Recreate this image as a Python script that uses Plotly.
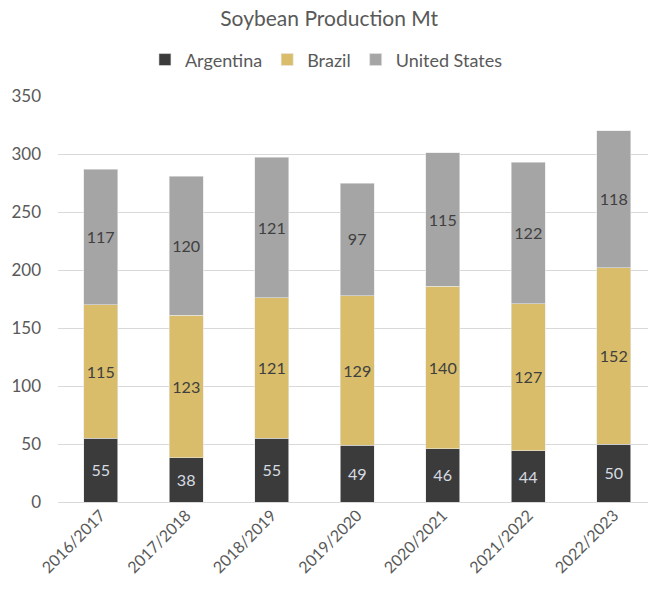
import plotly.graph_objects as go

years = ["2016/2017", "2017/2018", "2018/2019", "2019/2020", "2020/2021", "2021/2022", "2022/2023"]
argentina = [55, 38, 55, 49, 46, 44, 50]
brazil = [115, 123, 121, 129, 140, 127, 152]
united_states = [117, 120, 121, 97, 115, 122, 118]

FONT = "Lato"
series = [
    ("Argentina", argentina, "#3b3b3b", "#d6dbe3"),
    ("Brazil", brazil, "#d9bd6a", "#404040"),
    ("United States", united_states, "#a5a5a5", "#404040"),
]

fig = go.Figure()
for name, vals, color, tcolor in series:
    fig.add_trace(go.Bar(
        x=years, y=vals, name=name,
        marker=dict(color=color, line=dict(width=0.6, color="#e6e6e6")),
        text=[str(v) for v in vals], textposition="inside",
        insidetextanchor="middle", textangle=0,
        textfont=dict(family=FONT, size=17, color=tcolor),
        width=0.4,
    ))

fig.update_layout(
    barmode="stack",
    width=648, height=593,
    margin=dict(l=58, r=0, t=96, b=91),
    paper_bgcolor="white", plot_bgcolor="white",
    font=dict(family=FONT, size=15, color="#595959"),
    title=dict(text="Soybean Production Mt", x=0.508, xanchor="center",
               y=0.968, yref="container", yanchor="middle",
               font=dict(family=FONT, size=21, color="#595959")),
    legend=dict(orientation="h", x=0.455, xanchor="center", y=1.089, yanchor="middle",
                font=dict(family=FONT, size=18, color="#595959"),
                traceorder="normal", itemwidth=30),
    uniformtext=dict(minsize=10, mode="show"),
    showlegend=True,
)
fig.update_xaxes(range=[-0.5, 6.4], tickangle=-45, showgrid=False, showline=False,
                 ticks="", tickfont=dict(family=FONT, size=16, color="#595959"))
fig.update_yaxes(range=[0, 350], dtick=50, showgrid=True, gridcolor="#d9d9d9", gridwidth=1,
                 zeroline=True, zerolinecolor="#d9d9d9", zerolinewidth=1,
                 showline=False, ticks="", ticklabelstandoff=16,
                 tickfont=dict(family=FONT, size=17, color="#595959"))

fig.write_html("out.html")
